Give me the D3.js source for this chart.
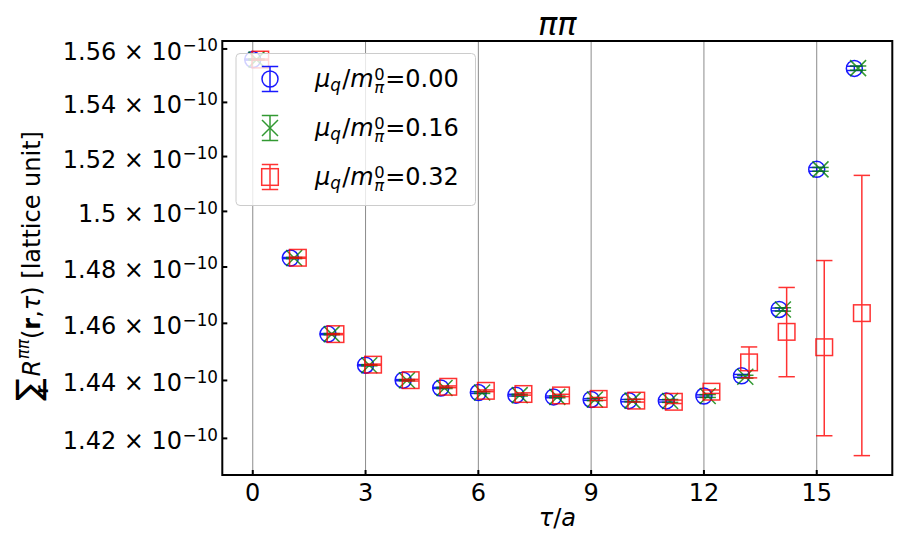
<!DOCTYPE html>
<html><head><meta charset="utf-8">
<script src="https://cdn.jsdelivr.net/npm/d3@7"></script>
<style>body{margin:0;background:#fff} svg{display:block}</style>
</head><body>
<svg id="c" width="898" height="538"></svg>
<script>
// ---- data (values in units of 1e-10) ----
const tau = [0,1,2,3,4,5,6,7,8,9,10,11,12,13,14,15,16];
const seriesLabels = ["0.00","0.16","0.32"];
const seriesColors = ["#0000ff","#008000","#ff0000"];
const seriesOpacity = [0.9,0.8,0.8];
const seriesOffsets = [0,0.1,0.2];
const blueVals  = [1.5560,1.4832,1.4562,1.4453,1.4401,1.4374,1.4358,1.4349,1.4343,1.4334,1.4330,1.4329,1.4346,1.4416,1.4649,1.5153,1.5527];
const blueErrs  = [0.0002,0.0002,0.0002,0.0002,0.0002,0.0002,0.0003,0.0003,0.0003,0.0003,0.0004,0.0004,0.0004,0.0005,0.0005,0.0007,0.0008];
const greenVals = [1.5560,1.4832,1.4562,1.4453,1.4401,1.4374,1.4358,1.4349,1.4343,1.4334,1.4330,1.4329,1.4346,1.4413,1.4649,1.5153,1.5528];
const greenErrs = [0.0002,0.0002,0.0002,0.0002,0.0002,0.0002,0.0003,0.0003,0.0003,0.0004,0.0004,0.0005,0.0005,0.0005,0.0006,0.0007,0.0008];
const redVals   = [1.5560,1.4833,1.4562,1.4455,1.4401,1.4378,1.4364,1.4353,1.4348,1.4336,1.4330,1.4326,1.4361,1.4463,1.4570,1.4516,1.4636];
const redErrs   = [0.0002,0.0002,0.0002,0.0002,0.0003,0.0003,0.0003,0.0004,0.0004,0.0005,0.0005,0.0006,0.0006,0.0054,0.0157,0.0307,0.0495];
const xTicks = [0,3,6,9,12,15];
const yTicks = [1.42,1.44,1.46,1.48,1.50,1.52,1.54,1.56];
const yTickLabels = ["1.42","1.44","1.46","1.48","1.5","1.52","1.54","1.56"];
const xLimits = [-0.81, 17.01];
const yLimits = [1.4075, 1.5630];

// ---- layout ----
const L = 222.3, R = 892.3, T = 41, B = 475;
const FS = 24;
const svg = d3.select("#c");
const x = d3.scaleLinear().domain(xLimits).range([L, R]);
const y = d3.scaleLog().domain(yLimits).range([B, T]);

// math-like text: one <text> element, pieces as positioned tspans
function mathText(parent, px0, py0, pieces, base, anchor, rot) {
  const g = parent.append("g");
  const text = g.append("text")
    .attr("font-family", "DejaVu Sans").attr("font-size", base).attr("fill", "#000");
  let cx = 0, prevStart = 0, prevW = 0;
  const spans = [];
  pieces.forEach(p => {
    const size = base * (p.s || 1);
    const t = text.append("tspan")
      .attr("font-size", size)
      .attr("font-style", p.i ? "italic" : "normal")
      .attr("font-weight", p.b ? "bold" : "normal")
      .text(p.t);
    const w = t.node().getComputedTextLength();
    const px = (p.stack ? prevStart : cx) + (p.dx || 0) * base;
    spans.push({t, px, py: -(p.r || 0) * base});
    if (p.noadv) { /* none */ }
    else if (p.stack) { cx = Math.max(prevStart + prevW, px + w); }
    else { prevStart = px; prevW = w; cx = px + w; }
  });
  const total = cx;
  const sx = anchor === "end" ? -total : anchor === "middle" ? -total / 2 : 0;
  spans.forEach(s => s.t.attr("x", s.px + sx).attr("y", s.py));
  g.attr("transform", `translate(${px0},${py0})` + (rot ? ` rotate(${rot})` : ""));
  return g;
}

// grid
svg.append("g").selectAll("line").data(xTicks).join("line")
  .attr("x1", d => x(d)).attr("x2", d => x(d)).attr("y1", T).attr("y2", B)
  .attr("stroke", "#8c8c8c").attr("stroke-width", 1);

// data
const series = [
  {vals: blueVals, errs: blueErrs, marker: "o"},
  {vals: greenVals, errs: greenErrs, marker: "x"},
  {vals: redVals, errs: redErrs, marker: "s"}
];
const plot = svg.append("g");
plot.append("clipPath").attr("id", "clip").append("rect")
  .attr("x", L).attr("y", T).attr("width", R - L).attr("height", B - T);
const pg = plot.append("g").attr("clip-path", "url(#clip)");

function drawMarker(g, type, cx, cy, color) {
  if (type === "o") {
    g.append("circle").attr("cx", cx).attr("cy", cy).attr("r", 8)
      .attr("fill", "none").attr("stroke", color).attr("stroke-width", 1.5);
  } else if (type === "s") {
    g.append("rect").attr("x", cx - 8.3).attr("y", cy - 8.3).attr("width", 16.6).attr("height", 16.6)
      .attr("fill", "none").attr("stroke", color).attr("stroke-width", 1.5);
  } else {
    const h = 8;
    g.append("path").attr("d", `M${cx-h},${cy-h}L${cx+h},${cy+h}M${cx-h},${cy+h}L${cx+h},${cy-h}`)
      .attr("fill", "none").attr("stroke", color).attr("stroke-width", 1.5);
  }
}
function drawErr(g, cx, yTop, yBot, color) {
  g.append("line").attr("x1", cx).attr("x2", cx).attr("y1", yTop).attr("y2", yBot)
    .attr("stroke", color).attr("stroke-width", 1.5);
  [yTop, yBot].forEach(yy => g.append("line").attr("x1", cx - 8.2).attr("x2", cx + 8.2)
    .attr("y1", yy).attr("y2", yy).attr("stroke", color).attr("stroke-width", 1.5));
}

series.forEach((s, si) => {
  const g = pg.append("g").attr("opacity", seriesOpacity[si]);
  const col = seriesColors[si];
  tau.forEach((t, i) => {
    const cx = x(t + seriesOffsets[si]);
    drawErr(g, cx, y(s.vals[i] + s.errs[i]), y(s.vals[i] - s.errs[i]), col);
    drawMarker(g, s.marker, cx, y(s.vals[i]), col);
  });
});

// frame
svg.append("rect").attr("x", L).attr("y", T).attr("width", R - L).attr("height", B - T)
  .attr("fill", "none").attr("stroke", "#000").attr("stroke-width", 2);

// x ticks (inward)
svg.append("g").selectAll("line").data(xTicks).join("line")
  .attr("x1", d => x(d)).attr("x2", d => x(d)).attr("y1", B).attr("y2", B - 5)
  .attr("stroke", "#000").attr("stroke-width", 2);
svg.append("g").selectAll("text").data(xTicks).join("text")
  .attr("x", d => x(d)).attr("y", B + 25.5).attr("text-anchor", "middle")
  .attr("font-family", "DejaVu Sans").attr("font-size", FS).text(d => d);

// y ticks (inward)
svg.append("g").selectAll("line").data(yTicks).join("line")
  .attr("x1", L).attr("x2", L + 5).attr("y1", d => y(d)).attr("y2", d => y(d))
  .attr("stroke", "#000").attr("stroke-width", 2);
yTicks.forEach((v, i) => {
  mathText(svg, 218, y(v) + 11, [
    {t: yTickLabels[i] + " × 10"},
    {t: "−10", s: 0.7, r: 0.36, dx: 0.02}
  ], FS, "end");
});

// title
mathText(svg, (L + R) / 2, 35, [{t: "ππ", i: 1}], 32, "middle");

// x label
mathText(svg, (L + R) / 2, 526, [{t: "τ", i: 1}, {t: "/"}, {t: "a", i: 1}], FS, "middle");

// y label
mathText(svg, 40, 266, [
  {t: "∑", s: 1.4},
  {t: "r", b: 1, s: 0.7, r: -0.35, stack: 1, dx: 0.3, noadv: 1},
  {t: "R", i: 1, dx: 0.08},
  {t: "ππ", i: 1, s: 0.7, r: 0.45, dx: 0.02},
  {t: "("},
  {t: "r", b: 1},
  {t: ", "},
  {t: "τ", i: 1},
  {t: ") [lattice unit]"}
], FS, "middle", -90);

// legend
const lg = svg.append("g");
lg.append("rect").attr("x", 236).attr("y", 53.5).attr("width", 239.5).attr("height", 152)
  .attr("rx", 4).attr("fill", "#fff").attr("fill-opacity", 0.8)
  .attr("stroke", "#cccccc").attr("stroke-width", 1);
const legY = [79, 128, 177];
series.forEach((s, si) => {
  const g = lg.append("g").attr("opacity", seriesOpacity[si]);
  const col = seriesColors[si];
  drawErr(g, 270, legY[si] - 12.5, legY[si] + 12.5, col);
  drawMarker(g, s.marker, 270, legY[si], col);
  mathText(lg, 315, legY[si] + 8, [
    {t: "μ", i: 1},
    {t: "q", i: 1, s: 0.7, r: -0.16},
    {t: "/", dx: 0.05},
    {t: "m", i: 1},
    {t: "0", s: 0.68, r: 0.31, dx: 0.03},
    {t: "π", i: 1, s: 0.68, r: -0.27, stack: 1},
    {t: "=" + seriesLabels[si], dx: 0.02}
  ], FS, "start");
});
</script>
</body></html>
